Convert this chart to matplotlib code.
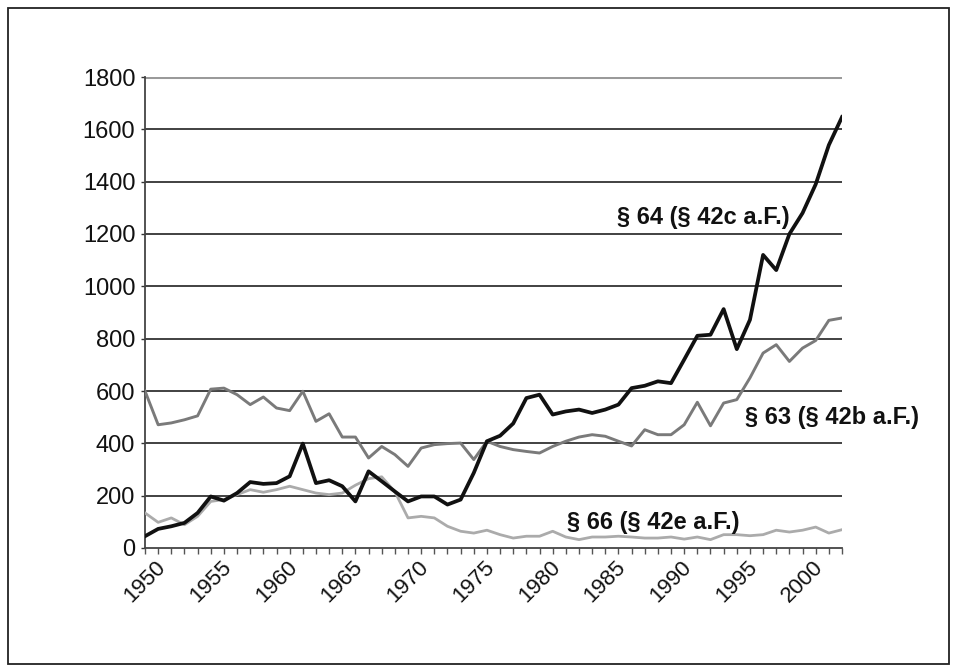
import matplotlib
matplotlib.use("Agg")
import matplotlib.pyplot as plt
from matplotlib.patches import Rectangle

years = list(range(1950, 2004))

s64 = [45, 73, 83, 96, 134, 197, 181, 210, 252, 245,
       248, 274, 399, 248, 259, 236, 178, 293, 255, 216,
       178, 197, 197, 166, 185, 287, 408, 429, 476, 573,
       586, 510, 522, 529, 516, 529, 548, 611, 620, 637,
       630, 720, 811, 815, 913, 760, 872, 1120, 1062, 1200,
       1280, 1390, 1540, 1647]

s63 = [600, 471, 478, 490, 505, 607, 611, 586, 548, 577,
       535, 525, 599, 484, 513, 424, 424, 344, 388, 357,
       312, 382, 395, 399, 401, 338, 408, 388, 376, 369,
       363, 388, 408, 424, 433, 427, 408, 390, 452, 433,
       433, 471, 557, 467, 554, 567, 650, 745, 777, 713,
       764, 793, 870, 879]

s66 = [134, 98, 115, 89, 121, 178, 185, 204, 223, 213,
       223, 236, 223, 210, 204, 210, 240, 265, 272, 215,
       115, 121, 115, 83, 64, 57, 68, 51, 38, 45,
       45, 64, 42, 32, 42, 42, 45, 42, 38, 38,
       42, 34, 42, 32, 51, 51, 47, 51, 68, 61,
       68, 80, 57, 70]

labels = ["§ 64 (§ 42c a.F.)", "§ 63 (§ 42b a.F.)", "§ 66 (§ 42e a.F.)"]
yticks = list(range(0, 1801, 200))

plt.rcParams['font.family'] = ['Liberation Sans', 'DejaVu Sans']

W, H = 957, 672
fig = plt.figure(figsize=(W / 100, H / 100), dpi=100)
fig.patches.append(Rectangle((8 / W, 8 / H), 941 / W, 656 / H, transform=fig.transFigure,
                             fill=False, edgecolor='#222222', linewidth=1.3))

ax = fig.add_axes([145 / W, 1 - 548 / H, (842 - 145) / W, (548 - 77) / H])

for v in yticks[1:]:
    if v == 1800:
        ax.axhline(v, color='#9a9a9a', lw=2.2, zorder=1)
    else:
        ax.axhline(v, color='#333333', lw=1.3, zorder=1)

ax.plot(years, s66, color='#ababab', lw=2.0, zorder=3)
ax.plot(years, s63, color='#7a7a7a', lw=2.1, zorder=4)
ax.plot(years, s64, color='#111111', lw=2.7, zorder=5)

ax.set_xlim(1950, 2003)
ax.set_ylim(0, 1800)

ax.set_yticks(yticks)
ax.set_yticklabels([str(v) for v in yticks], fontsize=17, color='#111111')
ax.set_xticks(years)
ax.set_xticklabels([str(y) if y % 5 == 0 else "" for y in years],
                   rotation=45, ha='center', va='top', fontsize=16, color='#111111')

ax.tick_params(axis='y', direction='out', length=3, width=1, color='#333333', pad=4)
ax.tick_params(axis='x', direction='out', length=4, width=1, color='#555555', pad=2)

for side in ['top', 'right']:
    ax.spines[side].set_visible(False)
for side in ['left', 'bottom']:
    ax.spines[side].set_color('#444444')
    ax.spines[side].set_linewidth(1.3)

ax.text(1985.9, 1262, labels[0], fontsize=17, fontweight='bold', ha='left', va='center',
        color='#111111', clip_on=False, zorder=6)
ax.text(1995.6, 497, labels[1], fontsize=17, fontweight='bold', ha='left', va='center',
        color='#111111', clip_on=False, zorder=6)
ax.text(1982.1, 99, labels[2], fontsize=17, fontweight='bold', ha='left', va='center',
        color='#111111', clip_on=False, zorder=6)

fig.savefig("out.png", dpi=100)
